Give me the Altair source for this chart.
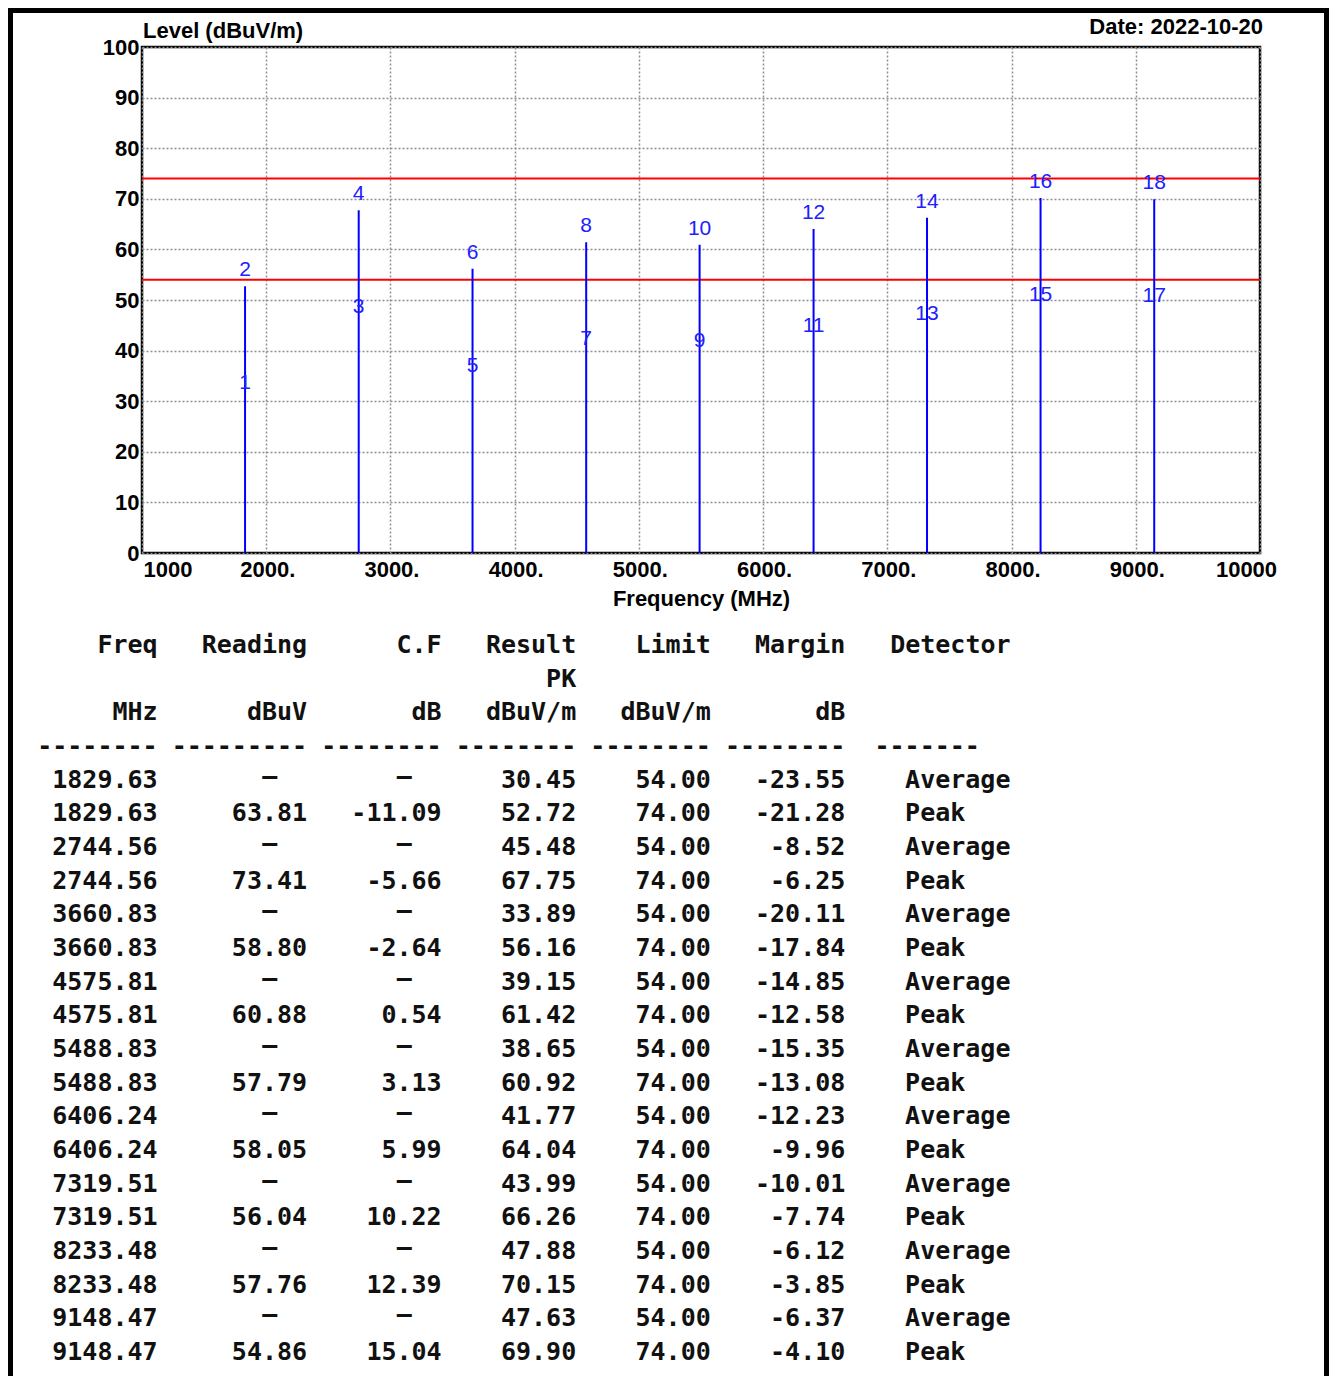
import altair as alt
import pandas as pd

# ---------------- data ----------------
row_freq = [1829.63, 1829.63, 2744.56, 2744.56, 3660.83, 3660.83, 4575.81, 4575.81,
            5488.83, 5488.83, 6406.24, 6406.24, 7319.51, 7319.51, 8233.48, 8233.48,
            9148.47, 9148.47]
reading = [None, 63.81, None, 73.41, None, 58.80, None, 60.88, None, 57.79,
           None, 58.05, None, 56.04, None, 57.76, None, 54.86]
cf = [None, -11.09, None, -5.66, None, -2.64, None, 0.54, None, 3.13,
      None, 5.99, None, 10.22, None, 12.39, None, 15.04]
result = [30.45, 52.72, 45.48, 67.75, 33.89, 56.16, 39.15, 61.42, 38.65, 60.92,
          41.77, 64.04, 43.99, 66.26, 47.88, 70.15, 47.63, 69.90]
limit = [54.00, 74.00, 54.00, 74.00, 54.00, 74.00, 54.00, 74.00, 54.00, 74.00,
         54.00, 74.00, 54.00, 74.00, 54.00, 74.00, 54.00, 74.00]
margin = [-23.55, -21.28, -8.52, -6.25, -20.11, -17.84, -14.85, -12.58, -15.35, -13.08,
          -12.23, -9.96, -10.01, -7.74, -6.12, -3.85, -6.37, -4.10]
detector = ["Average", "Peak"] * 9
limit_lines = [74, 54]
x_ticks = [1000, 2000, 3000, 4000, 5000, 6000, 7000, 8000, 9000, 10000]
y_ticks = [0, 10, 20, 30, 40, 50, 60, 70, 80, 90, 100]
y_label = "Level (dBuV/m)"
x_label = "Frequency (MHz)"
date_text = "Date: 2022-10-20"
header1 = ["Freq", "Reading", "C.F", "Result", "Limit", "Margin", "Detector"]
header2 = ["", "", "", "PK", "", "", ""]
header3 = ["MHz", "dBuV", "dB", "dBuV/m", "dBuV/m", "dB", ""]

# ---------------- layout ----------------
W, H = 1118, 506
PAD = {"left": 134, "top": 39, "right": 69, "bottom": 823}
SANS = "Liberation Sans"
MONO = "DejaVu Sans Mono"
right_cells = [8, 18, 27, 36, 45, 54]
det_head_cell, det_cell = 57, 58
dash_groups = [(0, 8), (9, 18), (19, 27), (28, 36), (37, 45), (46, 54), (56, 63)]
em_cells = {1: 15.5, 2: 24.5}

# ---------------- plot ----------------
pts = pd.DataFrame({
    "freq": row_freq,
    "val": result,
    "num": [str(i + 1) for i in range(len(result))],
    "det": detector,
})
peaks = pts[pts["det"] == "Peak"]
lims = pd.DataFrame({"val": limit_lines})

x_axis = alt.Axis(
    values=x_ticks,
    labelExpr="(datum.value == 1000 || datum.value == 10000) ? format(datum.value, 'd') : format(datum.value, 'd') + '.'",
    grid=True, gridColor="#8f8f8f", gridDash=[2, 2], gridWidth=1.5,
    ticks=False, domain=False,
    labelFont=SANS, labelFontWeight="bold", labelFontSize=22, labelColor="black",
    labelPadding=6, labelOverlap=False, labelFlush=False,
    labelAlign={"condition": {"test": "datum.value == 1000", "value": "left"},
                "value": "center"},
    labelOffset={"condition": {"test": "datum.value == 10000", "value": -14},
                 "value": 1},
    title=x_label, titleFont=SANS, titleFontWeight="bold", titleFontSize=22,
    titleColor="black", titlePadding=8,
)
y_axis = alt.Axis(
    values=y_ticks, grid=True, gridColor="#8f8f8f", gridDash=[2, 2], gridWidth=1.5,
    ticks=False, domain=False,
    labelFont=SANS, labelFontWeight="bold", labelFontSize=22, labelColor="black",
    labelPadding=3, labelOverlap=False, labelFlush=False, title=None,
)
x_enc = alt.X("freq:Q", scale=alt.Scale(domain=[1000, 10000], nice=False, zero=False), axis=x_axis)
y_enc = alt.Y("val:Q", scale=alt.Scale(domain=[0, 100], nice=False, zero=False), axis=y_axis)

limit_layer = alt.Chart(lims).mark_rule(color="#ff0000", strokeWidth=2).encode(y=y_enc)
stems = alt.Chart(peaks).mark_rule(color="#0000ff", strokeWidth=2).encode(
    x=x_enc, y=y_enc, y2=alt.datum(0))
labels = alt.Chart(pts).mark_text(
    dy=-16, align="center", baseline="middle", font=SANS, fontSize=21, color="#2020ff"
).encode(x=x_enc, y=y_enc, text="num:N")
plot = alt.layer(limit_layer, stems, labels)

# ---------------- table ----------------
def fmt(v):
    return f"{v:.2f}"

recs_r, recs_l, recs_em = [], [], []
for j in range(6):
    recs_r.append(dict(line=0, cell=right_cells[j], t=header1[j]))
    if header2[j]:
        recs_r.append(dict(line=1, cell=right_cells[j], t=header2[j]))
    if header3[j]:
        recs_r.append(dict(line=2, cell=right_cells[j], t=header3[j]))
recs_l.append(dict(line=0, cell=det_head_cell, t=header1[6]))
for a, b in dash_groups:
    recs_r.append(dict(line=3, cell=b, t="-" * (b - a)))
for i in range(len(result)):
    line = 4 + i
    cols = [row_freq[i], reading[i], cf[i], result[i], limit[i], margin[i]]
    for j, v in enumerate(cols):
        if v is None:
            recs_em.append(dict(line=line, cell=em_cells[j], t="\u2014"))
        else:
            recs_r.append(dict(line=line, cell=right_cells[j], t=fmt(v)))
    recs_l.append(dict(line=line, cell=det_cell, t=detector[i]))

tx = alt.Scale(domain=[0, 65], range=[-104, -104 + 65 * 14.95], nice=False, zero=False)
ty = alt.Scale(domain=[0, 21], range=[598, 1305], nice=False, zero=False)
tenc = dict(x=alt.X("cell:Q", scale=tx, axis=None),
            y=alt.Y("line:Q", scale=ty, axis=None),
            text="t:N")
tstyle = dict(font=MONO, fontWeight="bold", fontSize=25, color="#111111", baseline="middle")
t_right = alt.Chart(pd.DataFrame(recs_r)).mark_text(align="right", **tstyle).encode(**tenc)
t_left = alt.Chart(pd.DataFrame(recs_l)).mark_text(align="left", **tstyle).encode(**tenc)
t_em = alt.Chart(pd.DataFrame(recs_em)).mark_text(align="center", dy=-4, **tstyle).encode(**tenc)
table = alt.layer(t_right, t_left, t_em)

# ---------------- annotations ----------------
one = pd.DataFrame({"k": [0]})
lvl = alt.Chart(pd.DataFrame({"t": [y_label]})).mark_text(
    align="left", baseline="middle", font=SANS, fontWeight="bold", fontSize=22, color="black"
).encode(x=alt.value(1), y=alt.value(-16), text="t:N")
date = alt.Chart(pd.DataFrame({"t": [date_text]})).mark_text(
    align="right", baseline="middle", font=SANS, fontWeight="bold", fontSize=22, color="black"
).encode(x=alt.value(1121), y=alt.value(-20), text="t:N")
b_top = alt.Chart(one).mark_rule(color="black", strokeWidth=5).encode(
    x=alt.value(-134), x2=alt.value(1187), y=alt.value(-36.5))
b_left = alt.Chart(one).mark_rule(color="black", strokeWidth=5).encode(
    x=alt.value(-131.5), y=alt.value(-39), y2=alt.value(1345))
b_right = alt.Chart(one).mark_rule(color="black", strokeWidth=5).encode(
    x=alt.value(1184.5), y=alt.value(-39), y2=alt.value(1345))
deco = alt.layer(lvl, date, b_top, b_left, b_right)

chart = alt.layer(plot, table, deco).resolve_scale(
    x="independent", y="independent"
).properties(
    width=W, height=H,
    autosize=alt.AutoSizeParams(type="none"),
    padding=PAD,
    background="white",
).configure_view(stroke="black", strokeWidth=2.5)

chart.save("out.html", embed_options={"renderer": "svg", "actions": False})
